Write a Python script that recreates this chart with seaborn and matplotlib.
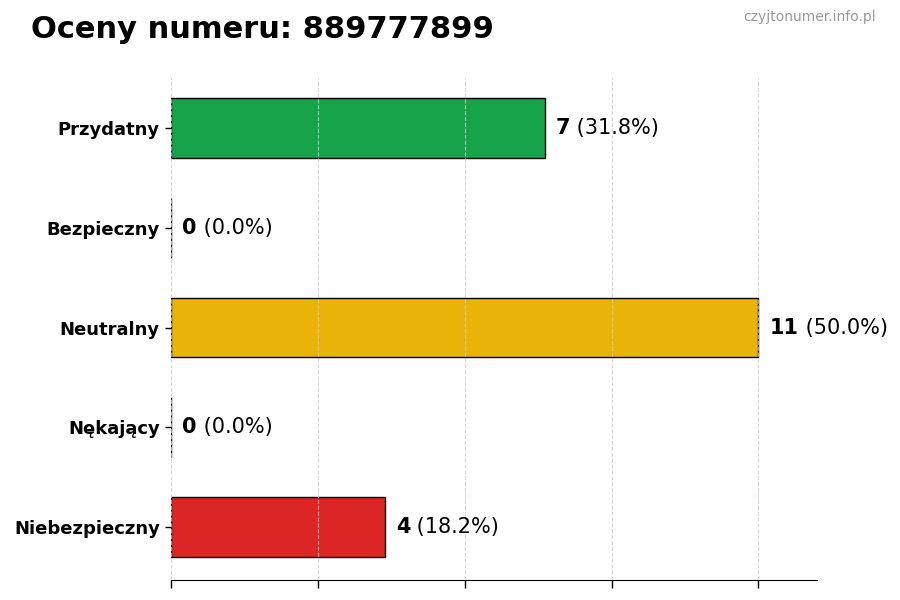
import seaborn as sns
import matplotlib.pyplot as plt
import pandas as pd

categories = ["Przydatny", "Bezpieczny", "Neutralny", "Nękający", "Niebezpieczny"]
counts = [7, 0, 11, 0, 4]
bar_colors = ["#16a34a", "#16a34a", "#eab308", "#eab308", "#dc2626"]
title = "Oceny numeru: 889777899"
watermark = "czyjtonumer.info.pl"

total = sum(counts)
df = pd.DataFrame({"kategoria": categories, "liczba": counts})

sns.set_style("white")
plt.rcParams['font.family'] = ['DejaVu Sans']
plt.rcParams['text.color'] = 'black'
plt.rcParams['ytick.color'] = 'black'
plt.rcParams['xtick.color'] = 'black'

fig = plt.figure(figsize=(9, 6), dpi=100)
ax = fig.add_axes([0.19, 0.0333, 0.718, 0.8367])

sns.barplot(data=df, y="kategoria", x="liczba", hue="kategoria",
            palette=bar_colors, orient="h", width=0.6, saturation=1,
            edgecolor="black", linewidth=1, legend=False, ax=ax)

max_val = max(counts)
ax.set_xlim(0, max_val * 1.1)
ax.set_ylim(len(categories) - 0.47, -0.5)
ax.set_xticks([max_val * i / 4 for i in range(5)])
ax.set_xticklabels([])
ax.tick_params(axis="x", length=6, width=1, color="black", bottom=True)
ax.tick_params(axis="y", length=4, width=1, color="black", left=True, pad=4)
for lbl in ax.get_yticklabels():
    lbl.set_fontweight("bold")
    lbl.set_fontsize(13)
    lbl.set_color("black")
ax.set_xlabel("")
ax.set_ylabel("")

ax.grid(axis="x", linestyle="--", color="#cccccc", alpha=0.8, zorder=5)
ax.set_axisbelow(False)
for side in ["top", "right", "left"]:
    ax.spines[side].set_visible(False)
ax.spines["bottom"].set_color("black")

# Value labels: bold count, then percent
for i, val in enumerate(counts):
    pct = val / total * 100 if total else 0
    t1 = ax.annotate(f"{val}", xy=(val, i), xytext=(8, 0),
                     textcoords="offset points", va="center", ha="left",
                     fontsize=15, fontweight="bold", color="black")
    ax.annotate(f" ({pct:.1f}%)", xy=(1, 0.5), xycoords=t1,
                va="center", ha="left", fontsize=15, color="black")

fig.text(0.034, 0.95, title, fontsize=22, fontweight="bold", va="center",
         ha="left", color="black")
fig.text(0.973, 0.971, watermark, fontsize=10, color="#999999", va="center", ha="right")

plt.savefig("out.png", dpi=100)
plt.close()
